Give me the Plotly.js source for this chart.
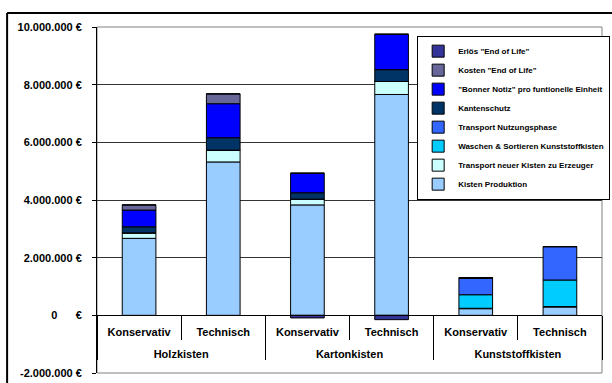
<!DOCTYPE html>
<html><head><meta charset="utf-8">
<script src="https://cdn.plot.ly/plotly-3.0.1.min.js"></script>
<style>body{margin:0;padding:0;background:#fff;overflow:hidden}#chart{width:612px;height:383px}</style>
</head><body><div id="chart"></div>
<script>
const groups = ["Holzkisten","Holzkisten","Kartonkisten","Kartonkisten","Kunststoffkisten","Kunststoffkisten"];
const subs = ["Konservativ","Technisch","Konservativ","Technisch","Konservativ","Technisch"];

const kistenProduktion = [2670000, 5320000, 3830000, 7660000, 230000, 290000];
const transportNeuerKisten = [190000, 410000, 200000, 450000, 15000, 15000];
const waschenSortieren = [0, 0, 0, 0, 470000, 920000];
const transportNutzung = [0, 0, 0, 0, 580000, 1160000];
const kantenschutz = [210000, 430000, 220000, 410000, 0, 0];
const bonnerNotiz = [580000, 1180000, 680000, 1230000, 0, 0];
const kostenEOL = [180000, 340000, 0, 0, 0, 0];
const erloesEOL = [0, 0, -90000, -150000, 0, 0];

const yTickVals = [-2000000, 0, 2000000, 4000000, 6000000, 8000000, 10000000];
const yTickText = ["-2.000.000 €", "0\u00a0\u00a0\u00a0\u00a0\u00a0\u00a0€", "2.000.000 €", "4.000.000 €", "6.000.000 €", "8.000.000 €", "10.000.000 €"];

const series = [
  ["Kisten Produktion", kistenProduktion, "#99CCFF"],
  ["Transport neuer Kisten zu Erzeuger", transportNeuerKisten, "#CCFFFF"],
  ["Waschen & Sortieren Kunststoffkisten", waschenSortieren, "#00CCFF"],
  ["Transport Nutzungsphase", transportNutzung, "#3366FF"],
  ["Kantenschutz", kantenschutz, "#003366"],
  ["\"Bonner Notiz\" pro funtionelle Einheit", bonnerNotiz, "#0000FF"],
  ["Kosten \"End of Life\"", kostenEOL, "#666699"],
  ["Erlös \"End of Life\"", erloesEOL, "#333399"]
];

// group labels get an empty first line so they sit lower, like the reference
const groupLabels = groups.map(g => "\u00a0<br>" + g);

const traces = series.map(s => ({
  type: "bar",
  name: s[0],
  x: [groupLabels, subs],
  y: s[1],
  marker: {color: s[2], line: {color: "#000", width: 1}},
  hoverinfo: "name+y"
}));

const F = "Liberation Sans, Arial, sans-serif";
const zeroPos = (0 - (-2000000)) / 12000000;

const layout = {
  width: 612, height: 383,
  margin: {l: 97, r: 10, t: 27, b: 10, pad: 0, autoexpand: false},
  paper_bgcolor: "#fff", plot_bgcolor: "#fff",
  barmode: "relative",
  bargap: 0.6,
  showlegend: true,
  legend: {
    x: 0.634, y: 0.975, xanchor: "left", yanchor: "top",
    traceorder: "reversed",
    bgcolor: "#fff", bordercolor: "#000", borderwidth: 1,
    font: {family: F, size: 8, color: "#000", weight: "bold"}
  },
  xaxis: {
    type: "multicategory",
    anchor: "free", position: zeroPos,
    showline: true, linecolor: "#000", linewidth: 1,
    ticks: "outside", tickson: "boundaries", ticklen: 24, tickcolor: "#000",
    showdividers: true, dividercolor: "#000", dividerwidth: 1,
    showgrid: false, zeroline: false,
    ticklabelstandoff: 6,
    automargin: false,
    tickfont: {family: F, size: 11, color: "#000", weight: "bold"}
  },
  yaxis: {
    range: [-2000000, 10000000],
    tickvals: yTickVals, ticktext: yTickText,
    showline: true, linecolor: "#000", linewidth: 1,
    ticks: "outside", ticklen: 4, tickcolor: "#000",
    showgrid: true, gridcolor: "#333", gridwidth: 1,
    zeroline: true, zerolinecolor: "#000", zerolinewidth: 1,
    automargin: false,
    tickfont: {family: F, size: 11, color: "#000", weight: "bold"},
    ticklabelstandoff: 8
  },
  shapes: [
    {type: "rect", xref: "paper", yref: "paper", x0: 0, x1: 1, y0: 0, y1: 1,
     line: {color: "#808080", width: 1}, layer: "below"},
    {type: "line", xref: "paper", yref: "paper", x0: -0.178, x1: -0.178, y0: -0.05, y1: 1.0405,
     line: {color: "#000", width: 2}, layer: "below"},
    {type: "line", xref: "paper", yref: "paper", x0: -0.178, x1: 1.0198, y0: 1.0405, y1: 1.0405,
     line: {color: "#000", width: 2}, layer: "below"}
  ]
};

Plotly.newPlot("chart", traces, layout, {displayModeBar: false, staticPlot: true});
</script>
</body></html>
